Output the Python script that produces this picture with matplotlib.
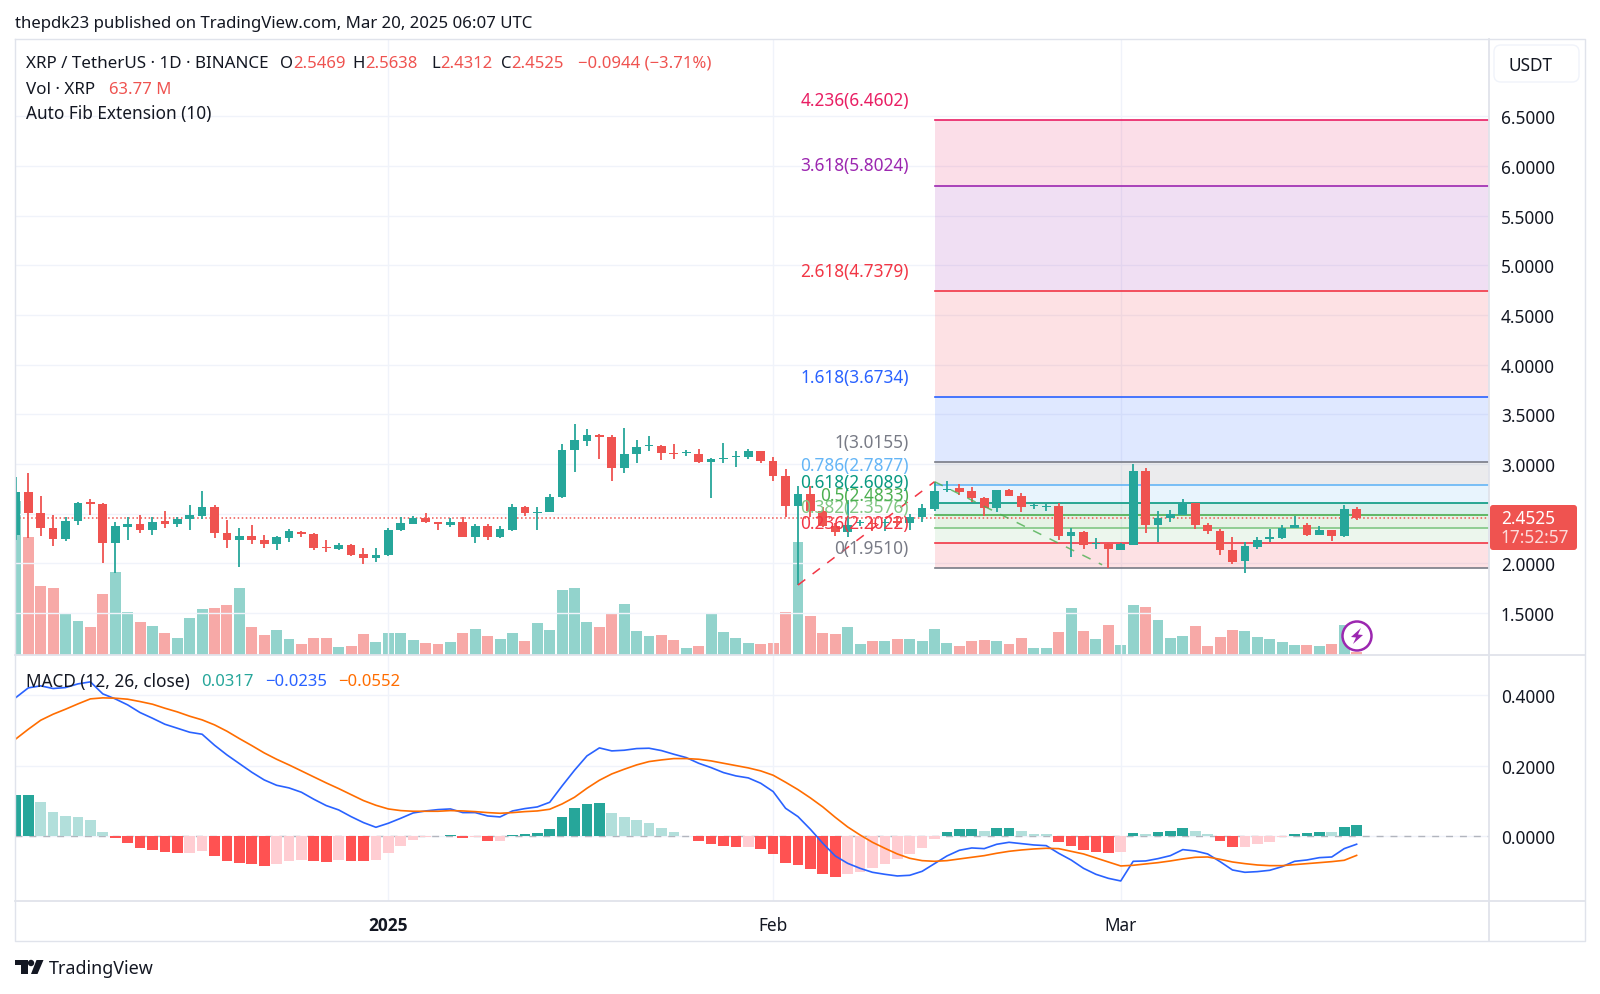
import numpy as np
import matplotlib
matplotlib.use("Agg")
import matplotlib.pyplot as plt
from matplotlib.patches import FancyBboxPatch, Circle, Polygon

plt.rcParams['font.family'] = ['Noto Sans', 'DejaVu Sans']

UP = '#26a69a'
DOWN = '#ef5350'
INK = '#131722'
GRID = '#f0f3fa'
FRAME = '#e0e3eb'

# daily candles, 2 Dec 2024 to 20 Mar 2025
opens = [2.285, 2.721, 2.503, 2.355, 2.245, 2.423, 2.617, 2.600, 2.208, 2.369, 2.392, 2.335, 2.423, 2.399, 2.443, 2.480, 2.564, 2.302, 2.238, 2.275,
         2.238, 2.198, 2.258, 2.318, 2.298, 2.167, 2.141, 2.184, 2.090, 2.057, 2.080, 2.335, 2.399, 2.453, 2.416, 2.389, 2.416, 2.265, 2.372, 2.265,
         2.335, 2.570, 2.503, 2.517, 2.668, 3.141, 3.235, 3.295, 3.272, 2.956, 3.104, 3.181, 3.181, 3.114, 3.107, 3.104, 3.017, 3.050, 3.067, 3.067,
         3.128, 3.030, 2.876, 2.577, 2.694, 2.530, 2.376, 2.318, 2.402, 2.409, 2.402, 2.426, 2.409, 2.463, 2.550, 2.735, 2.755, 2.728, 2.661, 2.557,
         2.735, 2.681, 2.574, 2.570, 2.574, 2.275, 2.318, 2.191, 2.198, 2.134, 2.188, 2.933, 2.386, 2.456, 2.490, 2.607, 2.386, 2.329, 2.134, 2.020,
         2.167, 2.248, 2.251, 2.359, 2.386, 2.288, 2.332, 2.275, 2.5469]
highs = [2.872, 2.906, 2.678, 2.486, 2.463, 2.621, 2.648, 2.611, 2.416, 2.463, 2.483, 2.470, 2.530, 2.463, 2.587, 2.725, 2.584, 2.433, 2.355, 2.386,
         2.288, 2.275, 2.349, 2.329, 2.308, 2.238, 2.208, 2.191, 2.151, 2.151, 2.352, 2.463, 2.476, 2.503, 2.419, 2.453, 2.466, 2.392, 2.396, 2.372,
         2.600, 2.577, 2.564, 2.698, 3.198, 3.399, 3.349, 3.302, 3.292, 3.366, 3.245, 3.285, 3.188, 3.205, 3.141, 3.148, 3.057, 3.208, 3.134, 3.148,
         3.131, 3.067, 2.950, 2.778, 2.778, 2.570, 2.402, 2.637, 2.436, 2.446, 2.443, 2.480, 2.496, 2.597, 2.822, 2.829, 2.802, 2.765, 2.668, 2.741,
         2.745, 2.711, 2.600, 2.600, 2.611, 2.359, 2.325, 2.258, 2.201, 2.208, 2.997, 2.960, 2.530, 2.537, 2.647, 2.611, 2.409, 2.349, 2.261, 2.211,
         2.268, 2.345, 2.389, 2.476, 2.402, 2.379, 2.335, 2.584, 2.5638]
lows = [2.235, 2.251, 2.278, 2.178, 2.228, 2.382, 2.486, 2.006, 1.906, 2.235, 2.308, 2.288, 2.355, 2.369, 2.335, 2.443, 2.251, 2.157, 1.959, 2.191,
        2.154, 2.130, 2.218, 2.265, 2.130, 2.117, 2.134, 2.073, 1.996, 2.010, 2.073, 2.329, 2.396, 2.406, 2.332, 2.366, 2.261, 2.208, 2.235, 2.251,
        2.325, 2.476, 2.332, 2.513, 2.654, 2.923, 3.181, 3.054, 2.829, 2.913, 3.013, 3.131, 3.037, 3.054, 3.084, 3.013, 2.658, 3.013, 2.970, 3.050,
        3.007, 2.829, 2.463, 1.781, 2.470, 2.362, 2.275, 2.261, 2.379, 2.322, 2.325, 2.369, 2.335, 2.419, 2.530, 2.721, 2.688, 2.617, 2.476, 2.517,
        2.678, 2.513, 2.547, 2.523, 2.235, 2.060, 2.147, 2.144, 1.953, 2.130, 2.181, 2.302, 2.211, 2.412, 2.483, 2.349, 2.298, 2.087, 1.996, 1.899,
        2.141, 2.214, 2.245, 2.355, 2.275, 2.285, 2.225, 2.268, 2.4312]
closes = [2.721, 2.503, 2.359, 2.245, 2.423, 2.611, 2.600, 2.208, 2.372, 2.392, 2.332, 2.419, 2.396, 2.446, 2.483, 2.564, 2.302, 2.238, 2.275, 2.235,
          2.198, 2.265, 2.322, 2.295, 2.154, 2.157, 2.188, 2.084, 2.057, 2.084, 2.335, 2.402, 2.453, 2.413, 2.396, 2.416, 2.265, 2.372, 2.265, 2.342,
          2.570, 2.503, 2.520, 2.668, 3.141, 3.238, 3.292, 3.272, 2.956, 3.104, 3.171, 3.191, 3.111, 3.101, 3.117, 3.017, 3.050, 3.060, 3.081, 3.128,
          3.030, 2.876, 2.577, 2.694, 2.527, 2.376, 2.318, 2.389, 2.416, 2.396, 2.419, 2.406, 2.463, 2.553, 2.731, 2.752, 2.715, 2.654, 2.557, 2.735,
          2.681, 2.567, 2.584, 2.580, 2.272, 2.318, 2.188, 2.201, 2.141, 2.194, 2.933, 2.386, 2.453, 2.496, 2.611, 2.382, 2.325, 2.134, 2.016, 2.171,
          2.235, 2.261, 2.355, 2.386, 2.285, 2.335, 2.275, 2.543, 2.4525]

# volume in millions of XRP
volumes = [3849, 2957, 1724, 1666, 1050, 841, 708, 1516, 2083, 1083, 825, 725, 541, 433, 933, 1150, 1166, 1241, 1683, 708,
           491, 616, 392, 267, 433, 417, 192, 225, 525, 333, 541, 558, 375, 308, 267, 325, 541, 641, 466, 392,
           541, 358, 800, 616, 1616, 1683, 816, 708, 1025, 1283, 600, 466, 491, 383, 175, 217, 1025, 583, 417, 292,
           267, 292, 1066, 2824, 966, 550, 516, 691, 275, 350, 350, 400, 392, 350, 641, 308, 233, 350, 375, 350,
           275, 417, 175, 167, 575, 1175, 591, 392, 741, 250, 1250, 1200, 875, 425, 475, 716, 217, 458, 625, 608,
           458, 400, 333, 258, 258, 233, 275, 750, 63.77]

macd_hist = [.1165, .1165, .0956, .0691, .0568, .0549, .0464, .0114, -.0066, -.0199, -.0341, -.0398, -.0455, -.0474, -.0470, -.0426, -.0578, -.0720, -.0758, -.0795,
             -.0852, -.0795, -.0720, -.0682, -.0720, -.0729, -.0691, -.0701, -.0705, -.0682, -.0474, -.0275, -.0114, -.0038, .0009, .0028, -.0066, -.0038, -.0142, -.0133,
             .0028, .0066, .0095, .0189, .0530, .0786, .0900, .0928, .0653, .0549, .0464, .0379, .0237, .0114, .0009, -.0152, -.0237, -.0275, -.0322, -.0313,
             -.0360, -.0502, -.0758, -.0814, -.0947, -.1089, -.1155, -.1089, -.1013, -.0900, -.0786, -.0653, -.0511, -.0341, -.0095, .0104, .0189, .0189, .0133, .0218,
             .0218, .0133, .0066, .0047, -.0170, -.0275, -.0398, -.0455, -.0492, -.0445, .0095, .0066, .0104, .0152, .0237, .0152, .0066, -.0133, -.0303, -.0303,
             -.0237, -.0180, -.0038, .0066, .0095, .0104, .0100, .0256, .0317]
macd_line = [.3930, .4205, .4262, .4186, .4214, .4318, .4375, .4034, .3892, .3722, .3504, .3343, .3172, .3059, .2945, .2888, .2576, .2301, .2055, .1809,
             .1591, .1439, .1364, .1241, .1042, .0862, .0739, .0549, .0379, .0246, .0360, .0502, .0653, .0710, .0748, .0767, .0663, .0663, .0568, .0540,
             .0710, .0777, .0824, .0956, .1421, .1866, .2273, .2500, .2415, .2434, .2481, .2491, .2424, .2320, .2225, .2064, .1941, .1799, .1705, .1648,
             .1496, .1260, .0786, .0549, .0189, -.0208, -.0568, -.0777, -.0919, -.1032, -.1089, -.1136, -.1117, -.1004, -.0786, -.0568, -.0407, -.0341, -.0360, -.0237,
             -.0180, -.0218, -.0256, -.0275, -.0492, -.0682, -.0919, -.1089, -.1203, -.1278, -.0720, -.0710, -.0644, -.0559, -.0388, -.0426, -.0511, -.0729, -.0966, -.1032,
             -.1013, -.0975, -.0871, -.0720, -.0682, -.0616, -.0597, -.0360, -.0235]
signal_line = [.2756, .3030, .3286, .3457, .3599, .3750, .3892, .3921, .3911, .3883, .3816, .3741, .3627, .3523, .3400, .3296, .3154, .2974, .2765, .2566,
               .2358, .2178, .2017, .1847, .1676, .1506, .1345, .1174, .1004, .0871, .0767, .0720, .0701, .0701, .0701, .0720, .0710, .0691, .0663, .0644,
               .0663, .0691, .0710, .0758, .0909, .1099, .1354, .1581, .1761, .1894, .2017, .2112, .2159, .2197, .2197, .2178, .2131, .2064, .1998, .1932,
               .1847, .1724, .1525, .1316, .1080, .0824, .0530, .0256, .0028, -.0180, -.0350, -.0511, -.0634, -.0701, -.0720, -.0701, -.0653, -.0606, -.0559, -.0492,
               -.0436, -.0398, -.0369, -.0350, -.0360, -.0436, -.0511, -.0625, -.0739, -.0852, -.0833, -.0795, -.0758, -.0710, -.0653, -.0606, -.0597, -.0663, -.0739, -.0786,
               -.0824, -.0843, -.0843, -.0814, -.0786, -.0758, -.0729, -.0691, -.0552]

last_close = 2.4525

fib_levels = ['0', '0.236', '0.382', '0.5', '0.618', '0.786', '1', '1.618', '2.618', '3.618', '4.236']
fib_prices = [1.9510, 2.2022, 2.3576, 2.4833, 2.6089, 2.7877, 3.0155, 3.6734, 4.7379, 5.8024, 6.4602]
fib_colors = ['#787b86', '#f23645', '#81c784', '#4caf50', '#089981', '#64b5f6', '#787b86', '#2962ff', '#f23645', '#9c27b0', '#e91e63']
fib_start = 74

trend_up_x = [63, 74]
trend_up_y = [1.781, 2.822]
trend_down_x = [74, 87.5]
trend_down_y = [2.822, 1.985]

price_ticks = [1.5, 2.0, 2.5, 3.0, 3.5, 4.0, 4.5, 5.0, 5.5, 6.0, 6.5]
macd_ticks = [0.0, 0.2, 0.4]
month_pos = [30, 61, 89]
month_labels = ['2025', 'Feb', 'Mar']

n = len(closes)
idx = np.arange(n)
o = np.array(opens)
c = np.array(closes)
rising = c >= o
candle_colors = [UP if r else DOWN for r in rising]
vol_colors = ['#92d3cc' if r else '#f7a9a7' for r in rising]

hist_colors = []
for i, v in enumerate(macd_hist):
    prev = macd_hist[i - 1] if i > 0 else v
    if v >= 0:
        hist_colors.append(UP if v >= prev else '#b2dfdb')
    else:
        hist_colors.append('#ff5252' if v < prev else '#ffcdd2')

W, H = 1600, 995
X_STEP = 12.414
X_ZERO = 15.9
LEFT, RIGHT = 15, 1489
xlim = ((LEFT - X_ZERO) / X_STEP, (RIGHT - X_ZERO) / X_STEP)
LABEL = 12.4


def pane(top, bottom):
    return [LEFT / W, (H - bottom) / H, (RIGHT - LEFT) / W, (bottom - top) / H]


fig = plt.figure(figsize=(W / 100, H / 100), dpi=100, facecolor='white')

# volume sits under the candles, on its own scale
ax_vol = fig.add_axes(pane(40, 656))
ax_vol.set_xlim(xlim)
ax_vol.set_ylim(0, 15400)
ax_vol.axis('off')
ax_vol.bar(idx, volumes, width=0.88, color=vol_colors, linewidth=0, zorder=2)

ax = fig.add_axes(pane(40, 656))
ax.patch.set_alpha(0)
ax.set_xlim(xlim)
ax.set_ylim(1.0765, 7.280)
ax.set_xticks(month_pos)
ax.yaxis.tick_right()
ax.set_yticks(price_ticks)
ax.set_yticklabels(['' if t == 2.5 else f'{t:.4f}' for t in price_ticks],
                   fontsize=LABEL, color=INK, ha='left')
ax.tick_params(axis='y', length=0, pad=8.6)
ax.tick_params(axis='x', length=0, labelbottom=False)
ax.grid(True, color=GRID, lw=1, zorder=0)
ax.set_axisbelow(True)
for s in ax.spines.values():
    s.set_visible(False)

# fib extension bands and levels
x_end = xlim[1]
for i in range(1, len(fib_prices)):
    ax.fill_between([fib_start, x_end], fib_prices[i - 1], fib_prices[i], color=fib_colors[i], alpha=0.145, lw=0, zorder=1)
for lvl, p, col in zip(fib_levels, fib_prices, fib_colors):
    ax.plot([fib_start, x_end], [p, p], color=col, lw=1.2, zorder=2)

ax.axhline(last_close, color=DOWN, ls=':', lw=1.1, zorder=2)

# candles
ax.vlines(idx, lows, highs, color=candle_colors, lw=1.3, zorder=3)
ax.bar(idx, np.abs(c - o), bottom=np.minimum(o, c), width=0.70, color=candle_colors, linewidth=0, zorder=3)

ax.plot(trend_up_x, trend_up_y, color='#f23645', lw=1.1, dashes=(6, 6), zorder=4)
ax.plot(trend_down_x, trend_down_y, color='#4caf50', lw=1.1, dashes=(6, 6), alpha=0.8, zorder=4)

for lvl, p, col in zip(fib_levels, fib_prices, fib_colors):
    ax.annotate(f'{lvl}({p:.4f})', xy=(fib_start, p), xytext=(-18.5, 14.8), textcoords='offset points',
                ha='right', va='center', fontsize=12.4, color=col, zorder=5)

# macd pane
ax_m = fig.add_axes(pane(656, 902))
ax_m.set_xlim(xlim)
ax_m.set_ylim(-0.1847, 0.5138)
ax_m.set_xticks(month_pos)
ax_m.set_xticklabels(month_labels, fontsize=12.4, color=INK)
# the installed Noto Sans has no bold face, Open Sans does
ax_m.get_xticklabels()[0].set_fontfamily('Open Sans')
ax_m.get_xticklabels()[0].set_fontweight('bold')
ax_m.tick_params(axis='x', length=0, pad=11)
ax_m.yaxis.tick_right()
ax_m.set_yticks(macd_ticks)
ax_m.set_yticklabels([f'{t:.4f}' for t in macd_ticks], fontsize=LABEL, color=INK, ha='left')
ax_m.tick_params(axis='y', length=0, pad=8.6)
ax_m.grid(True, color=GRID, lw=1, zorder=0)
ax_m.set_axisbelow(True)
for s in ax_m.spines.values():
    s.set_visible(False)
ax_m.axhline(0, color='#b2b5be', lw=1, dashes=(5, 5), zorder=1)
ax_m.bar(idx, macd_hist, width=0.86, color=hist_colors, linewidth=0, zorder=2)
ax_m.plot(idx, macd_line, color='#2962ff', lw=1.2, zorder=3)
ax_m.plot(idx, signal_line, color='#ff6d00', lw=1.2, zorder=3)

# page furniture in pixel coordinates
px = fig.add_axes([0, 0, 1, 1], zorder=10)
px.set_xlim(0, W)
px.set_ylim(H, 0)
px.axis('off')
px.patch.set_alpha(0)

px.plot([15, 1585, 1585, 15, 15], [40, 40, 942, 942, 40], color=FRAME, lw=1)
px.plot([RIGHT, RIGHT], [40, 942], color=FRAME, lw=1.3)
px.plot([15, 1585], [656, 656], color=FRAME, lw=1.3)
px.plot([15, 1585], [902, 902], color=FRAME, lw=1.3)

px.add_patch(FancyBboxPatch((1494, 46), 85, 37, boxstyle='round,pad=0,rounding_size=7', fc='white', ec='#f0f3fa', lw=1))
px.text(1508, 66, 'USDT', fontsize=LABEL, color=INK, va='center')

# last price tag
px.add_patch(FancyBboxPatch((1490, 506), 87, 45, boxstyle='round,pad=0,rounding_size=3', fc=DOWN, ec='none'))
px.text(1501, 519, '2.4525', fontsize=LABEL, color='white', va='center')
px.text(1501, 538, '17:52:57', fontsize=12.4, color='white', alpha=0.8, va='center')

# lightning badge
px.add_patch(Circle((1357, 637), 14.5, fc='white', ec='#9c27b0', lw=1.8))
px.add_patch(Polygon([(1361, 629), (1351, 638), (1356, 638.5), (1353, 645), (1363, 636), (1358, 635.5)], fc='#9c27b0', ec='none'))

px.text(15, 24.5, 'thepdk23 published on TradingView.com, Mar 20, 2025 06:07 UTC', fontsize=12.1, color=INK, va='center')

ROW1, ROW2, ROW3 = 64, 89.5, 114
px.text(26.5, ROW1, 'XRP / TetherUS · 1D · BINANCE', fontsize=12.25, color=INK, va='center')
for x, s, col in [(279.6, 'O', INK), (293, '2.5469', DOWN), (352, 'H', INK), (365, '2.5638', DOWN), (431, 'L', INK), (440, '2.4312', DOWN),
                  (501, 'C', INK), (511, '2.4525', DOWN), (577.6, '−0.0944 (−3.71%)', DOWN)]:
    px.text(x, ROW1, s, fontsize=12, color=col, va='center')
px.text(26.5, ROW2, 'Vol · XRP', fontsize=12.25, color=INK, va='center')
px.text(109, ROW2, '63.77 M', fontsize=12, color=DOWN, va='center')
px.text(26.5, ROW3, 'Auto Fib Extension (10)', fontsize=12.4, color=INK, va='center')

ROWM = 681.5
px.text(26.5, ROWM, 'MACD (12, 26, close)', fontsize=12.4, color=INK, va='center')
px.text(201, ROWM, '0.0317', fontsize=12, color=UP, va='center')
px.text(265, ROWM, '−0.0235', fontsize=12, color='#2962ff', va='center')
px.text(338, ROWM, '−0.0552', fontsize=12, color='#ff6d00', va='center')

# tradingview mark
px.add_patch(Polygon([(15, 961), (27.5, 961), (27.5, 975), (20.5, 975), (20.5, 966), (15, 966)], fc=INK, ec='none'))
px.add_patch(Circle((31, 964), 3.2, fc=INK, ec='none'))
px.add_patch(Polygon([(36.5, 961), (43.5, 961), (37.5, 975), (31, 975)], fc=INK, ec='none'))
px.text(49, 969, 'TradingView', fontsize=12.9, color=INK, va='center')

fig.savefig('out.png', dpi=100, facecolor='white')
